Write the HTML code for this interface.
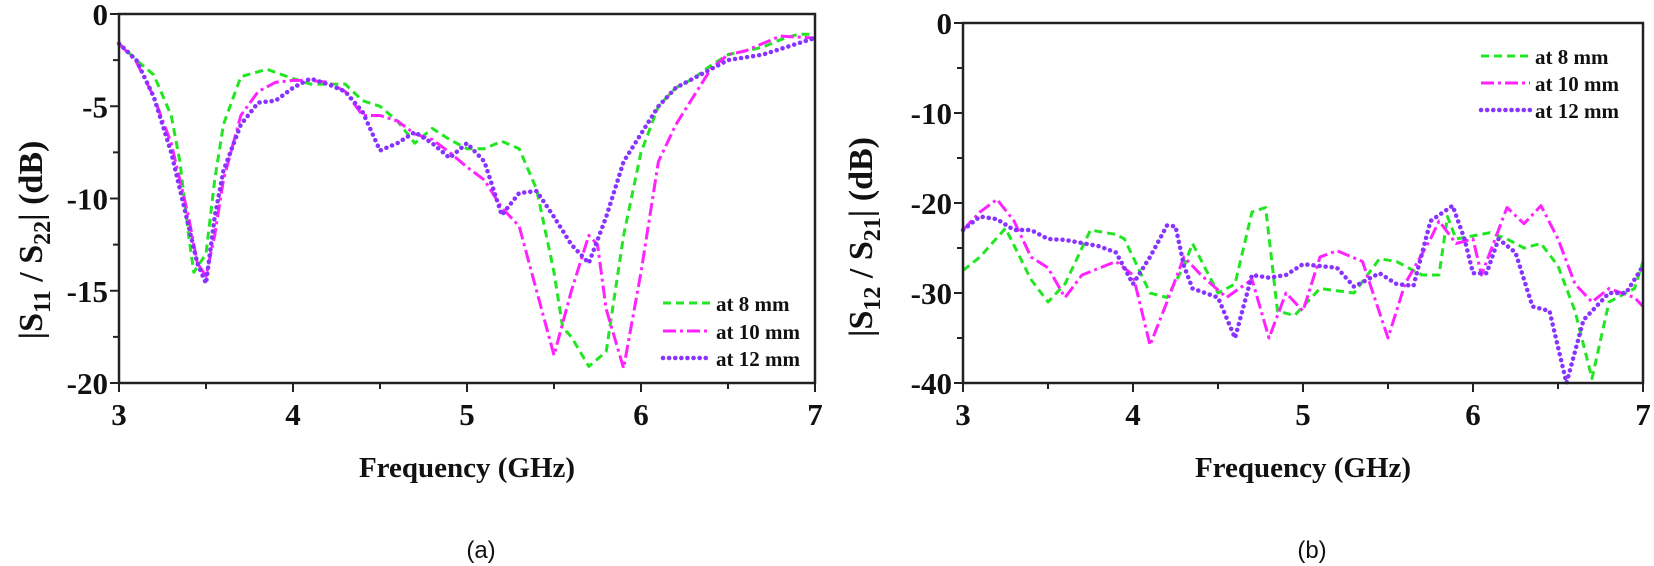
<!DOCTYPE html>
<html><head><meta charset="utf-8"><style>
html,body{margin:0;padding:0;background:#fff;width:1654px;height:566px;overflow:hidden}
svg{position:absolute;left:0;top:0}
.t{font-family:"Liberation Serif",serif;font-weight:bold;fill:#111}
.s{font-family:"Liberation Sans",sans-serif;fill:#111}
</style></head><body>
<svg id="g" width="1654" height="566" viewBox="0 0 1654 566"></svg>
<script>
const NS="http://www.w3.org/2000/svg",svg=document.getElementById('g');
function el(t,a,txt){const e=document.createElementNS(NS,t);for(const k in a)e.setAttribute(k,a[k]);if(txt!=null)e.textContent=txt;svg.appendChild(e);return e;}
const styles=[{c:"#22e622",d:"8,5",cap:"butt"},{c:"#ff22ff",d:"13,4,3,4",cap:"butt"},{c:"#8833ff",d:"0.1,6",cap:"round",w:4.5}];
function panel(P){
 const X=f=>P.x0+(f-3)*P.sx, Y=v=>P.y0+(-v)*P.sy;
 P.data.forEach((d,i)=>{const s=styles[i];let pts=[];for(let j=0;j<d.length;j+=2)pts.push(X(d[j]).toFixed(1)+","+Y(d[j+1]).toFixed(1));
  el("polyline",{points:pts.join(" "),fill:"none",stroke:s.c,"stroke-width":s.w||3,"stroke-dasharray":s.d,"stroke-linecap":s.cap,"stroke-linejoin":"round"});});
 const xr=X(7),yb=Y(P.ymin);
 el("rect",{x:P.x0,y:P.y0,width:xr-P.x0,height:yb-P.y0,fill:"none",stroke:"#222","stroke-width":2.5});
 for(let f=3;f<=7.001;f+=0.5){const x=X(f);el("line",{x1:x,y1:yb,x2:x,y2:yb+(f%1==0?9:6),stroke:"#222","stroke-width":2});
  if(f%1==0)el("text",{x:x,y:yb+42,"text-anchor":"middle","font-size":31,class:"t"},String(f));}
 for(let v=0;v>=P.ymin;v-=P.minor){const y=Y(v),maj=(Math.abs(v)%P.major==0);
  el("line",{x1:P.x0-(maj?9:6),y1:y,x2:P.x0,y2:y,stroke:"#222","stroke-width":2});
  if(maj)el("text",{x:P.x0-11,y:y+11,"text-anchor":"end","font-size":31,class:"t"},v==0?"0":"-"+Math.abs(v));}
 el("text",{x:(P.x0+xr)/2,y:yb+94,"text-anchor":"middle","font-size":29,class:"t"},"Frequency (GHz)");
 const yl=el("text",{x:0,y:0,"text-anchor":"middle","font-size":34,class:"t",transform:`translate(${P.ylx},${P.yly}) rotate(-90)`});
 yl.innerHTML=P.ylab;
 el("text",{x:(P.x0+xr)/2+(P.capdx||0),y:558,"text-anchor":"middle","font-size":24,class:"s"},P.cap);
 ["at 8 mm","at 10 mm","at 12 mm"].forEach((t,i)=>{const s=styles[i],y=P.ly[i];
  el("line",{x1:P.lx1,y1:y,x2:P.lx2,y2:y,stroke:s.c,"stroke-width":s.w||3,"stroke-dasharray":s.d,"stroke-linecap":s.cap});
  el("text",{x:P.lx2+5,y:y+8,"font-size":21,class:"t"},t);});
}
panel({x0:119,sx:174,y0:14,sy:18.45,ymin:-20,major:5,minor:2.5,ylx:42,yly:240,cap:"(a)",capdx:14,
 ylab:'|S<tspan font-size="24" dy="8">11</tspan><tspan dy="-8"> / S</tspan><tspan font-size="24" dy="8">22</tspan><tspan dy="-8">| (dB)</tspan>',
 lx1:663,lx2:711,ly:[303,331,358],
 data:[
 [3,-1.6,3.1,-2.5,3.2,-3.3,3.3,-5.5,3.35,-8,3.4,-12,3.43,-14,3.5,-13,3.55,-9,3.6,-6,3.7,-3.4,3.85,-3,4,-3.5,4.1,-3.8,4.3,-3.8,4.4,-4.7,4.5,-5,4.6,-5.8,4.7,-7,4.8,-6.2,4.9,-6.8,5,-7.3,5.1,-7.3,5.2,-6.9,5.3,-7.3,5.4,-9.5,5.5,-14,5.55,-17,5.6,-17.5,5.7,-19.1,5.8,-18.3,5.9,-12,6,-7.5,6.1,-5,6.2,-4,6.3,-3.5,6.4,-2.8,6.5,-2.2,6.7,-1.8,6.8,-1.4,6.9,-1.1,7,-1.1],
 [3,-1.6,3.1,-2.6,3.2,-4.5,3.3,-7,3.4,-11,3.45,-13.5,3.5,-14.2,3.55,-12,3.6,-9,3.7,-5.5,3.8,-4.2,3.9,-3.7,4,-3.6,4.1,-3.6,4.2,-3.7,4.3,-4.2,4.4,-5.5,4.5,-5.5,4.6,-5.8,4.7,-6.5,4.8,-6.8,4.9,-7.5,5,-8.3,5.1,-9,5.2,-10.5,5.3,-11.5,5.4,-15,5.5,-18.5,5.6,-15,5.7,-12,5.75,-12.5,5.8,-16,5.9,-19.2,6,-14,6.1,-8,6.2,-6,6.3,-4.5,6.4,-3,6.5,-2.2,6.6,-2,6.7,-1.6,6.8,-1.2,7,-1.3],
 [3,-1.6,3.1,-2.5,3.2,-4.5,3.3,-7.5,3.4,-11.5,3.45,-13.5,3.5,-14.6,3.55,-11,3.6,-8.5,3.7,-6,3.8,-4.8,3.9,-4.7,4,-4,4.1,-3.5,4.2,-3.8,4.3,-4.2,4.4,-5.3,4.5,-7.4,4.6,-7,4.7,-6.4,4.8,-7,4.9,-7.8,5,-7,5.1,-8,5.2,-10.9,5.3,-9.7,5.4,-9.6,5.5,-11,5.6,-12.5,5.7,-13.5,5.8,-11,5.9,-8,6,-6.5,6.1,-5,6.2,-4,6.3,-3.5,6.4,-3,6.5,-2.5,6.7,-2.2,6.9,-1.6,7,-1.3]]});
panel({x0:963,sx:170,y0:23,sy:9.0,ymin:-40,major:10,minor:5,ylx:872,yly:237,cap:"(b)",capdx:9,
 ylab:'|S<tspan font-size="24" dy="8">12</tspan><tspan dy="-8"> / S</tspan><tspan font-size="24" dy="8">21</tspan><tspan dy="-8">| (dB)</tspan>',
 lx1:1481,lx2:1530,ly:[56,83,110],
 data:[
 [3,-27.5,3.1,-26,3.25,-22.8,3.4,-28.5,3.5,-31,3.6,-29,3.75,-23,3.9,-23.5,3.95,-24,4.1,-30,4.2,-30.5,4.3,-27,4.35,-24.5,4.5,-30,4.6,-29,4.7,-21,4.78,-20.5,4.85,-32,4.95,-32.5,5.1,-29.5,5.3,-30,5.45,-26.2,5.55,-26.5,5.7,-28,5.8,-28,5.85,-21.5,5.9,-24,6.1,-23.3,6.2,-24,6.3,-25,6.4,-24.5,6.5,-27,6.6,-32,6.7,-39.5,6.8,-31,6.95,-29.5,7,-26.5],
 [3,-23,3.1,-21,3.2,-19.6,3.3,-22,3.4,-26,3.5,-27.2,3.6,-30.5,3.7,-28,3.9,-26.5,4,-28,4.1,-35.8,4.2,-31,4.3,-26,4.4,-28,4.55,-30.5,4.7,-28.5,4.8,-35,4.9,-30,5,-32,5.1,-26,5.2,-25.3,5.35,-26.5,5.5,-35,5.6,-29,5.75,-24,5.8,-22,5.9,-24.5,6,-24,6.05,-28,6.1,-25.5,6.2,-20.5,6.3,-22.3,6.4,-20.3,6.5,-24,6.6,-29,6.7,-31,6.8,-29.5,6.95,-30.5,7,-31.5],
 [3,-23,3.1,-21.5,3.2,-21.8,3.3,-23,3.4,-23,3.5,-24,3.6,-24.1,3.8,-24.8,3.9,-25.5,4,-29,4.1,-26,4.2,-22.5,4.25,-22.6,4.3,-27,4.35,-29.5,4.5,-30.5,4.6,-35,4.7,-28,4.8,-28.3,4.9,-28,5,-26.8,5.1,-27,5.2,-27.2,5.3,-29.3,5.45,-27.8,5.55,-29,5.65,-29.2,5.75,-22,5.88,-20.3,5.95,-24,6,-27.8,6.08,-27.8,6.15,-24,6.25,-25.5,6.35,-31.5,6.45,-32,6.55,-40,6.65,-33,6.8,-30,6.9,-30,7,-27]]});
</script>
</body></html>
